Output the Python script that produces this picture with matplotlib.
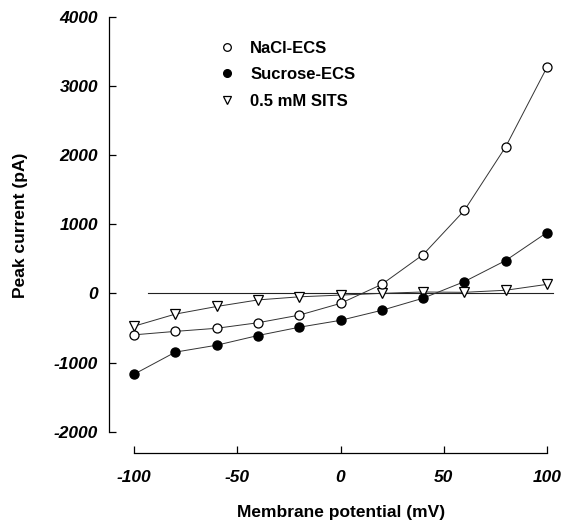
import matplotlib.pyplot as plt

# Data
voltage = [-100, -80, -60, -40, -20, 0, 20, 40, 60, 80, 100]
nacl = [-600, -550, -505, -425, -315, -145, 130, 560, 1200, 2120, 3270]
sucrose = [-1170, -850, -750, -610, -490, -390, -245, -70, 170, 475, 880]
sits = [-475, -300, -190, -95, -50, -25, 0, 20, 15, 45, 130]
labels = ['NaCl-ECS', 'Sucrose-ECS', '0.5 mM SITS']

plt.rcParams['font.family'] = ['Liberation Sans', 'DejaVu Sans']
plt.rcParams['axes.unicode_minus'] = False

fig = plt.figure(figsize=(5.66, 5.25), dpi=100)
ax = fig.add_axes([0.193, 0.137, 0.788, 0.831])

# zero line
ax.plot([-93, 103], [0, 0], color='#222222', lw=0.8, zorder=1)

lc = '#333333'
ax.plot(voltage, nacl, color=lc, lw=0.7, marker='o', ms=6.5, mfc='white',
        mec='black', mew=0.9, label=labels[0], zorder=3)
ax.plot(voltage, sucrose, color=lc, lw=0.7, marker='o', ms=6.5, mfc='black',
        mec='black', label=labels[1], zorder=3)
ax.plot(voltage, sits, color=lc, lw=0.7, marker='v', ms=7, mfc='white',
        mec='black', mew=0.9, label=labels[2], zorder=2)

ax.set_xlim(-112, 104)
ax.set_ylim(-2310, 4000)
ax.set_xticks([-100, -50, 0, 50, 100])
ax.set_yticks([-2000, -1000, 0, 1000, 2000, 3000, 4000])

for s in ['top', 'right']:
    ax.spines[s].set_visible(False)
ax.spines['left'].set_bounds(-2000, 4000)
ax.spines['bottom'].set_bounds(-100, 100)
ax.spines['left'].set_linewidth(0.9)
ax.spines['bottom'].set_linewidth(0.9)

ax.tick_params(axis='y', direction='in', length=5, width=0.9, pad=8)
ax.tick_params(axis='x', direction='in', length=5, width=0.9, pad=12)
for t in ax.get_xticklabels() + ax.get_yticklabels():
    t.set_fontsize(12.5)
    t.set_fontweight('bold')
    t.set_fontstyle('italic')

ax.set_xlabel('Membrane potential (mV)', fontsize=12.5, fontweight='bold')
ax.set_ylabel('Peak current (pA)', fontsize=12.5, fontweight='bold')
ax.xaxis.set_label_coords(0.52, -0.118)
ax.yaxis.set_label_coords(-0.182, 0.521)

leg = ax.legend(loc='upper left', bbox_to_anchor=(0.215, 0.98), frameon=False,
                handlelength=0.8, handletextpad=1.0, labelspacing=0.7,
                prop={'size': 12, 'weight': 'bold'})
for h in leg.legend_handles:
    h.set_linestyle('None')
    h.set_markersize(5.5)

fig.savefig('out.png', dpi=100)
